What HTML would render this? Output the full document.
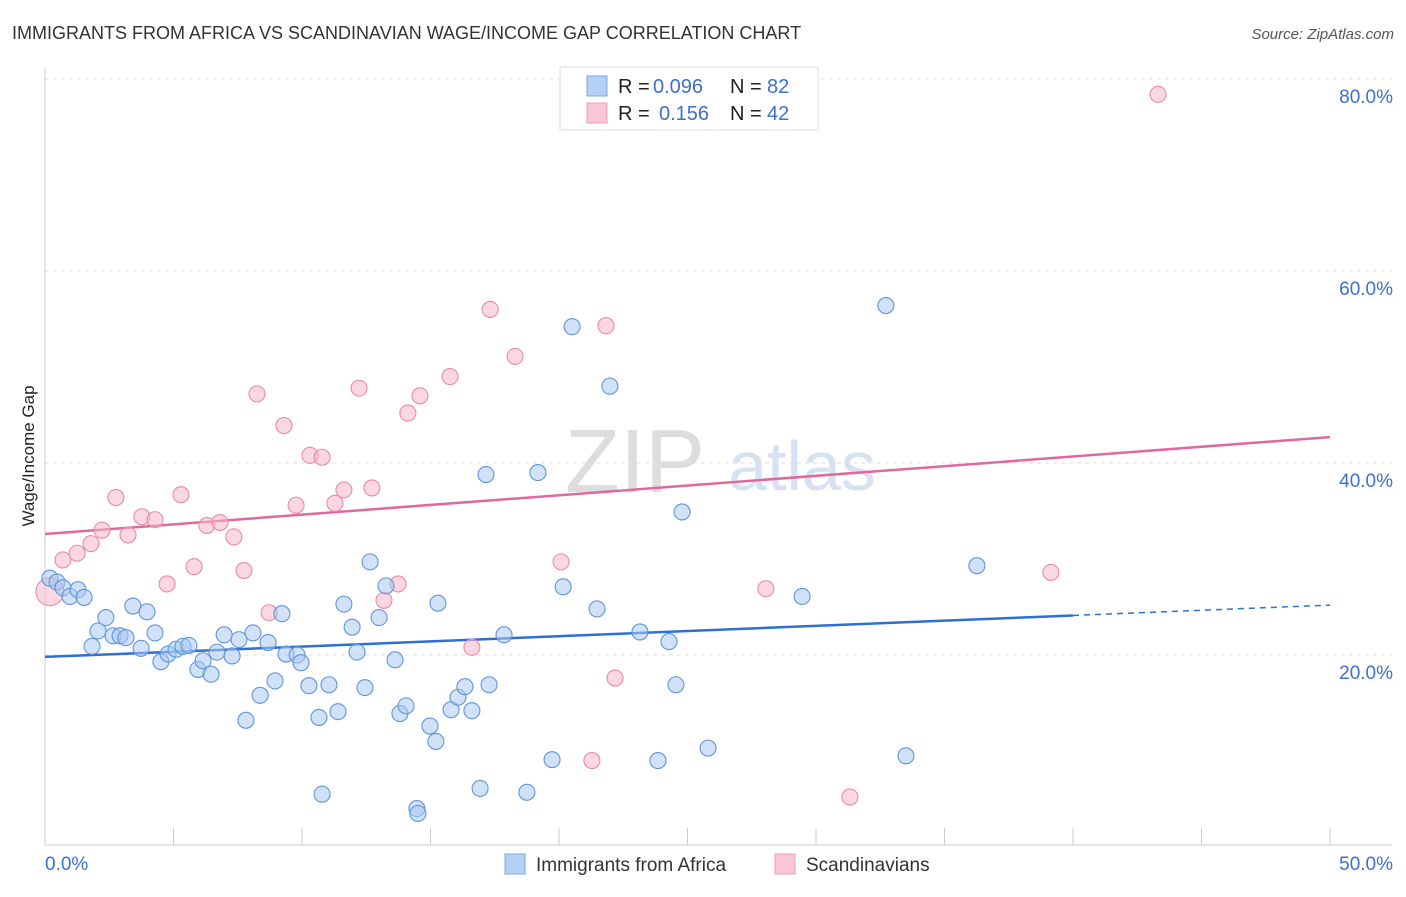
<!DOCTYPE html>
<html><head><meta charset="utf-8"><style>
body{margin:0;background:#fff;font-family:"Liberation Sans",sans-serif}
svg text{font-family:"Liberation Sans",sans-serif}
</style></head><body>
<svg id="chart" width="1406" height="892" xmlns="http://www.w3.org/2000/svg">
<text x="12" y="39" font-size="18" fill="#333">IMMIGRANTS FROM AFRICA VS SCANDINAVIAN WAGE/INCOME GAP CORRELATION CHART</text>
<text x="1394" y="39" font-size="15" fill="#555" font-style="italic" text-anchor="end">Source: ZipAtlas.com</text>
<text x="34" y="456" font-size="17" fill="#222" text-anchor="middle" transform="rotate(-90 34 456)">Wage/Income Gap</text>
<text x="635" y="492" font-size="90" fill="#ddd" font-family="Liberation Serif" text-anchor="middle">ZIP</text>
<text x="802" y="490" font-size="70" fill="#d6e2f3" text-anchor="middle">atlas</text>
<g id="grid"></g><g id="axes"></g><g id="lines"></g><g id="pts"></g>
<g>
<rect x="560" y="67" width="258" height="63" fill="#fff" stroke="#ddd"/>
<rect x="587" y="76" width="20" height="20" fill="#b5d0f5" stroke="#7aaae6"/>
<rect x="587" y="103" width="20" height="20" fill="#f9c6d5" stroke="#ee9fb8"/>
<text x="618" y="93" font-size="20" fill="#222">R =</text>
<text x="653" y="93" font-size="20" fill="#3a70d2">0.096</text>
<text x="730" y="93" font-size="20" fill="#222">N =</text>
<text x="767" y="93" font-size="20" fill="#3a70d2">82</text>
<text x="618" y="120" font-size="20" fill="#222">R =</text>
<text x="659" y="120" font-size="20" fill="#3a70d2">0.156</text>
<text x="730" y="120" font-size="20" fill="#222">N =</text>
<text x="767" y="120" font-size="20" fill="#3a70d2">42</text>
</g>
<g>
<rect x="505" y="854" width="20" height="20" fill="#b5d0f5" stroke="#7aaae6"/>
<text x="536" y="871" font-size="19" fill="#333">Immigrants from Africa</text>
<rect x="775" y="854" width="20" height="20" fill="#f9c6d5" stroke="#ee9fb8"/>
<text x="806" y="871" font-size="19" fill="#333">Scandinavians</text>
</g>
</svg>
<script>
const xTicks=[0,5,10,15,20,25,30,35,40,45,50];
const yTicks=[20,40,60,80];
const yTickLabels=["20.0%","40.0%","60.0%","80.0%"];
const blueX=[0.19,0.47,0.70,0.97,1.28,1.52,1.83,2.06,2.37,2.65,2.92,3.15,3.42,3.74,3.97,4.28,4.51,4.79,5.10,5.37,5.60,5.95,6.15,6.46,6.69,6.97,7.28,7.55,7.82,8.09,8.37,8.68,8.95,9.22,9.38,9.81,9.96,10.27,10.66,10.78,11.05,11.40,11.63,11.95,12.14,12.45,12.65,13.00,13.27,13.62,13.81,14.05,14.47,14.51,14.98,15.21,15.29,15.80,16.07,16.34,16.61,16.93,17.16,17.28,17.86,18.75,19.18,19.73,20.16,20.51,21.48,21.98,23.15,23.85,24.28,24.55,24.79,25.80,29.46,32.72,33.50,36.26];
const blueY=[28.0,27.6,27.0,26.1,26.8,26.0,20.9,22.5,23.9,22.0,22.0,21.8,25.1,20.7,24.5,22.3,19.3,20.1,20.6,20.9,21.0,18.5,19.4,18.0,20.3,22.1,19.9,21.6,13.2,22.3,15.8,21.3,17.3,24.3,20.1,20.0,19.2,16.8,13.5,5.5,16.9,14.1,25.3,22.9,20.3,16.6,29.7,23.9,27.2,19.5,13.9,14.7,4.0,3.5,12.6,11.0,25.4,14.3,15.6,16.7,14.2,6.1,38.8,16.9,22.1,5.7,39.0,9.1,27.1,54.2,24.8,48.0,22.4,9.0,21.4,16.9,34.9,10.3,26.1,56.4,9.5,29.3];
const pinkX=[0.19,0.70,1.25,1.79,2.22,2.76,3.23,3.77,4.28,4.75,5.29,5.80,6.30,6.81,7.35,7.74,8.25,8.72,9.30,9.77,10.31,10.78,11.28,11.63,12.22,12.72,13.19,13.74,14.12,14.59,15.76,16.61,17.32,18.29,20.08,21.28,21.83,22.18,28.05,31.32,39.14,43.31];
const pinkY=[26.6,29.9,30.6,31.6,33.0,36.4,32.5,34.4,34.1,27.4,36.7,29.2,33.5,33.8,32.3,28.8,47.2,24.4,43.9,35.6,40.8,40.6,35.8,37.2,47.8,37.4,25.7,27.4,45.2,47.0,49.0,20.8,56.0,51.1,29.7,9.0,54.3,17.6,26.9,5.2,28.6,78.4];
const blueTrend=[19.8,25.2]; const pinkTrend=[32.6,42.7]; const blueSolidEnd=40;
const NS="http://www.w3.org/2000/svg";
const X=v=>45+v*25.7, Y=v=>847-v*9.6;
function mk(tag,a,parent){const e=document.createElementNS(NS,tag);for(const k in a)e.setAttribute(k,a[k]);document.getElementById(parent).appendChild(e);return e;}
yTicks.forEach((t,i)=>{
 const l=mk('line',{x1:45,x2:1392,y1:Y(t),y2:Y(t),stroke:'#ddd','stroke-dasharray':'4,4'},'grid');
 
 
 const tx=mk('text',{x:1393,y:Y(t)+24,'font-size':19,fill:'#3a70d2','text-anchor':'end'},'grid');tx.textContent=yTickLabels[i];
 
 
});
const ax=mk('line',{x1:45,x2:1392,y1:845,y2:845,stroke:'#ccc'},'axes');


const ay=mk('line',{x1:45,x2:45,y1:68,y2:845,stroke:'#ccc'},'axes');


xTicks.forEach(t=>{const l=mk('line',{x1:X(t),x2:X(t),y1:828,y2:845,stroke:'#ccc'},'axes');
 
 });
const x0=mk('text',{x:45,y:870,'font-size':19,fill:'#3a70d2'},'axes');x0.textContent='0.0%';


const x1=mk('text',{x:1393,y:870,'font-size':19,fill:'#3a70d2','text-anchor':'end'},'axes');x1.textContent='50.0%';


function pt(x,y,f,s,r,name){const c=mk('circle',{cx:X(x),cy:Y(y),r:r,fill:f,'fill-opacity':0.55,stroke:s,'stroke-width':1.1},'pts');
 
 }
pinkX.forEach((x,i)=>pt(x,pinkY[i],'#f7b6c9','#e98aa8',i===0?14:8,'scandinavians-point'));
blueX.forEach((x,i)=>pt(x,blueY[i],'#a9c8f2','#5f95dc',8,'africa-point'));
const by=v=>blueTrend[0]+(blueTrend[1]-blueTrend[0])*v/50;
const bl=mk('line',{x1:X(0),y1:Y(by(0)),x2:X(blueSolidEnd),y2:Y(by(blueSolidEnd)),stroke:'#2d6fd6','stroke-width':2.5},'lines');


const bd=mk('line',{x1:X(blueSolidEnd),y1:Y(by(blueSolidEnd)),x2:X(50),y2:Y(by(50)),stroke:'#2d6fd6','stroke-width':1.5,'stroke-dasharray':'6,5'},'lines');


const pl=mk('line',{x1:X(0),y1:Y(pinkTrend[0]),x2:X(50),y2:Y(pinkTrend[1]),stroke:'#e0689a','stroke-width':2.5},'lines');


</script>
</body></html>
